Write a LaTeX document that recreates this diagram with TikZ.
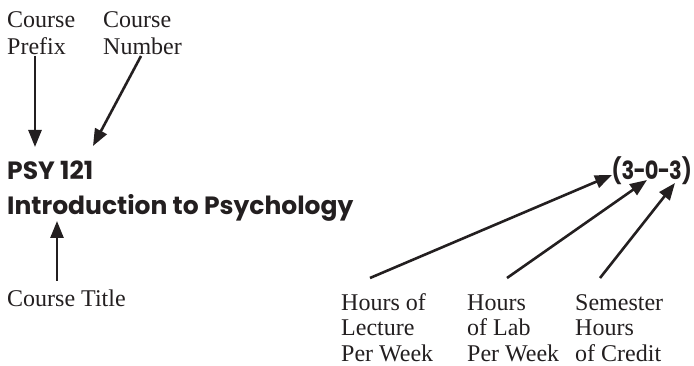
\documentclass[tikz,border=0pt]{standalone}
\usepackage{fontspec}
\setmainfont{Liberation Serif}
\newfontfamily\headfont{Poppins}[UprightFont=* Bold]
\usetikzlibrary{arrows.meta}
\definecolor{ink}{RGB}{35,31,32}
\begin{document}
\begin{tikzpicture}[x=1pt,y=-1pt,
  lbl/.style={anchor=base west,inner sep=0pt,align=left,text=ink,
    font=\fontsize{24}{27.5}\selectfont},
  lblb/.style={lbl,font=\fontsize{24}{25.5}\selectfont},
  head/.style={anchor=base west,inner sep=0pt,text=ink,
    font=\headfont\fontsize{25}{28}\selectfont},
  arr/.style={draw=ink,line width=2.6pt,
    -{Triangle[width=13pt,length=17pt]}}]
\useasboundingbox (0,0) rectangle (694,366);
% labels (base = baseline of last line)
\node[lbl] (prefix) at (7,55) {Course\\Prefix};
\node[lbl] (number) at (103,55) {Course\\Number};
\node[head] (code) at (7,180) {PSY 121};
\node[head] (title) at (7,215) {Introduction to Psychology};
\node[head,anchor=base east] (hours) at (692,180)
  {\scalebox{0.84}[1]{(3\kern-1pt-\kern-1pt0\kern-1pt-\kern-1pt3)}};
\node[lbl] (ctitle) at (7,307) {Course Title};
\node[lblb] (lect) at (341,361) {Hours of\\Lecture\\Per Week};
\node[lblb] (lab) at (467,361) {Hours\\of Lab\\Per Week};
\node[lblb] (cred) at (575,361) {Semester\\Hours\\of Credit};
% arrow ends
\coordinate (pT) at (35,56);   \coordinate (pH) at (35,147);
\coordinate (nT) at (141,56);  \coordinate (nH) at (93,146);
\coordinate (tT) at (57,281);  \coordinate (tH) at (57,221);
\coordinate (lT) at (370,278); \coordinate (lH) at (612,175);
\coordinate (bT) at (507,278); \coordinate (bH) at (647,180);
\coordinate (cT) at (600,278); \coordinate (cH) at (675,183);
\draw[arr] (pT) -- (pH);
\draw[arr] (nT) -- (nH);
\draw[arr] (tT) -- (tH);
\draw[arr] (lT) -- (lH);
\draw[arr] (bT) -- (bH);
\draw[arr] (cT) -- (cH);
\end{tikzpicture}
\end{document}
